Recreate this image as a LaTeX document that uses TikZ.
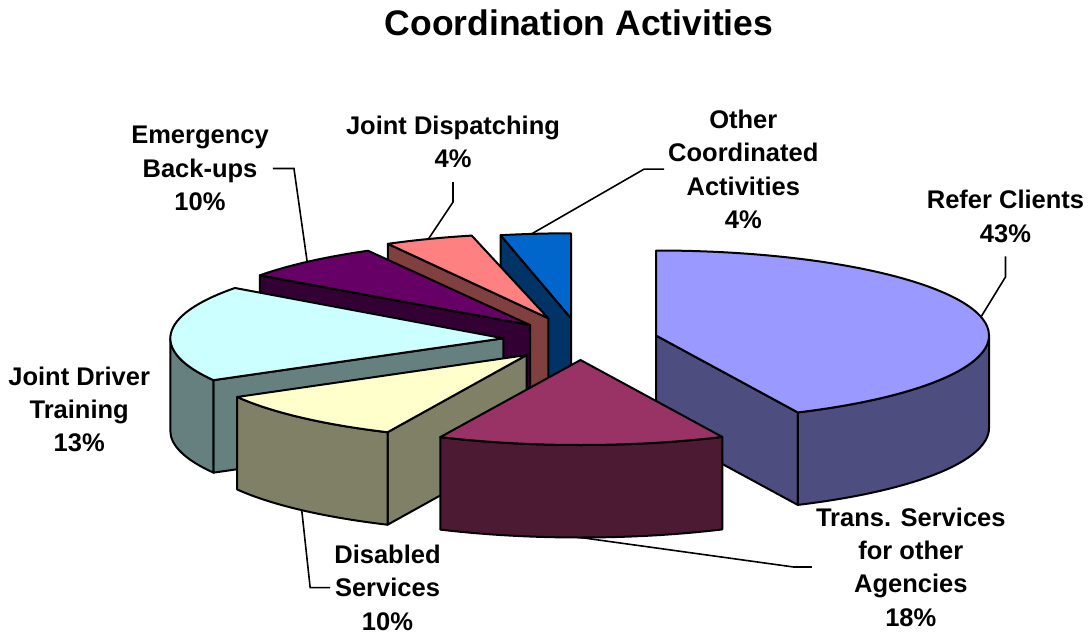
\documentclass[tikz,border=0pt]{standalone}
\usepackage{fontspec}
\setmainfont{Liberation Sans}
\usetikzlibrary{calc}
\definecolor{rcTop}{HTML}{9999FF}\definecolor{rcSide}{HTML}{4D4D80}
\definecolor{trTop}{HTML}{993366}\definecolor{trSide}{HTML}{4D1A33}
\definecolor{dsTop}{HTML}{FFFFCC}\definecolor{dsSide}{HTML}{808066}
\definecolor{jdTop}{HTML}{CCFFFF}\definecolor{jdSide}{HTML}{668080}
\definecolor{emTop}{HTML}{660066}\definecolor{emSide}{HTML}{330033}
\definecolor{dpTop}{HTML}{FF8080}\definecolor{dpSide}{HTML}{804040}
\definecolor{ocTop}{HTML}{0066CC}\definecolor{ocSide}{HTML}{003366}
\tikzset{
  face/.style={draw=black, line width=2pt, line join=round},
  lead/.style={draw=black, line width=1.6pt, line join=miter},
  lab/.style={font=\fontsize{25.5}{33.4}\selectfont\bfseries, align=center, inner sep=4pt, anchor=base},
  titletext/.style={font=\fontsize{35.5}{40}\selectfont\bfseries, inner sep=0pt, anchor=base},
}
\begin{document}
\begin{tikzpicture}[x=1pt, y=-1pt]
\useasboundingbox (0,0) rectangle (1091,637);

% ---- Other Coordinated Activities
\coordinate (oc) at (571,318.3);
\path[face, fill=ocSide] (oc) -- ++(257.8:333 and 85) -- ++(0,92.5) -- ($(oc)+(0,92.5)$) -- cycle;
\path[face, fill=ocTop] (oc) -- ++(257.8:333 and 85) arc[start angle=257.8, end angle=270, x radius=333, y radius=85] -- cycle;

% ---- Joint Dispatching
\coordinate (dc) at (548.3,318.3);
\path[face, fill=dpSide] (dc) -- ++(241.2:333 and 85) -- ++(0,92.5) -- ($(dc)+(0,92.5)$) -- cycle;
\path[face, fill=dpTop] (dc) -- ++(241.2:333 and 85) arc[start angle=241.2, end angle=256.7, x radius=333, y radius=85] -- cycle;

% ---- Emergency Back-ups
\coordinate (ec) at (530,325);
\path[face, fill=emSide] (ec) -- ++(215.8:333 and 85) -- ++(0,92.5) -- ($(ec)+(0,92.5)$) -- cycle;
\path[face, fill=emTop] (ec) -- ++(215.8:333 and 85) arc[start angle=215.8, end angle=240.9, x radius=333, y radius=85] -- cycle;

% ---- Joint Driver Training
\coordinate (jc) at (503.3,338.3);
\path[face, fill=jdSide] (jc) -- ++(150.5:333 and 85) -- ++(0,92.5) -- ($(jc)+(0,92.5)$) -- cycle;
\path[face, fill=jdSide] (jc) ++(150.5:333 and 85) arc[start angle=150.5, end angle=180, x radius=333, y radius=85] -- ++(0,92.5) arc[start angle=180, end angle=150.5, x radius=333, y radius=85] -- cycle;
\path[face, fill=jdTop] (jc) -- ++(150.5:333 and 85) arc[start angle=150.5, end angle=216.3, x radius=333, y radius=85] -- cycle;

% ---- Refer Clients
\coordinate (rc) at (656,335.5);
\path[face, fill=rcSide] (rc) -- ++(64.8:333 and 85) -- ++(0,92.5) -- ($(rc)+(0,92.5)$) -- cycle;
\path[face, fill=rcSide] (rc) ++(0:333 and 85) arc[start angle=0, end angle=64.8, x radius=333, y radius=85] -- ++(0,92.5) arc[start angle=64.8, end angle=0, x radius=333, y radius=85] -- cycle;
\path[face, fill=rcTop] (rc) -- ++(-90:333 and 85) arc[start angle=-90, end angle=64.8, x radius=333, y radius=85] -- cycle;

% ---- Disabled Services
\coordinate (sc) at (526.7,355);
\path[face, fill=dsSide] (sc) -- ++(114.7:333 and 85) -- ++(0,92.5) -- ($(sc)+(0,92.5)$) -- cycle;
\path[face, fill=dsSide] (sc) ++(114.7:333 and 85) arc[start angle=114.7, end angle=150.4, x radius=333, y radius=85] -- ++(0,92.5) arc[start angle=150.4, end angle=114.7, x radius=333, y radius=85] -- cycle;
\path[face, fill=dsTop] (sc) -- ++(114.7:333 and 85) arc[start angle=114.7, end angle=150.4, x radius=333, y radius=85] -- cycle;

% ---- Trans. Services for other Agencies
\coordinate (tc) at (580.5,360);
\path[face, fill=trSide] (tc) ++(64.8:333 and 85) arc[start angle=64.8, end angle=114.9, x radius=333, y radius=85] -- ++(0,92.5) arc[start angle=114.9, end angle=64.8, x radius=333, y radius=85] -- cycle;
\path[face, fill=trTop] (tc) -- ++(64.8:333 and 85) arc[start angle=64.8, end angle=114.9, x radius=333, y radius=85] -- cycle;

% ---- title and labels (base anchor = baseline of the last line)
\node[titletext] (title) at (579,35) {Coordination Activities};
\node[lab] (lab-em) at (200,210.5) {Emergency\\Back-ups\\10\%};
\node[lab] (lab-dp) at (453,167.7) {Joint Dispatching\\4\%};
\node[lab] (lab-oc) at (743.3,228.4) {Other\\Coordinated\\Activities\\4\%};
\node[lab] (lab-rc) at (1005.5,242) {Refer Clients\\43\%};
\node[lab] (lab-jd) at (79.2,451.8) {Joint Driver\\Training\\13\%};
\node[lab] (lab-ds) at (387.5,630.1) {Disabled\\Services\\10\%};
\node[lab] (lab-tr) at (910.8,626.2) {Trans. Services\\for other\\Agencies\\18\%};

% ---- leader ends on the slices
\coordinate (em-pt) at ($(ec)+(228:333 and 85)$);
\coordinate (dp-pt) at ($(dc)+(248.9:333 and 85)$);
\coordinate (oc-pt) at ($(oc)+(263.2:333 and 85)$);
\coordinate (rc-pt) at ($(rc)+(-12.6:333 and 85)$);
\coordinate (ds-pt) at ($(sc)+(132.5:333 and 85)+(0,92.5)$);
\coordinate (tr-pt) at ($(tc)+(90:333 and 85)+(0,92.5)$);

\draw[lead] (lab-em.east) -- ++(21,0) -- (em-pt);
\draw[lead] ($(lab-dp.south)+(0,10)$) -- ++(0,20) -- (dp-pt);
\draw[lead] (lab-oc.west) -- ++(-20,0) -- (oc-pt);
\draw[lead] ($(lab-rc.south)+(0,10)$) -- ++(0,20.4) -- (rc-pt);
\draw[lead] (lab-ds.west) -- ++(-20,0) -- (ds-pt);
\draw[lead] (lab-tr.west) -- ++(-18.3,0) -- (tr-pt);
\end{tikzpicture}
\end{document}
